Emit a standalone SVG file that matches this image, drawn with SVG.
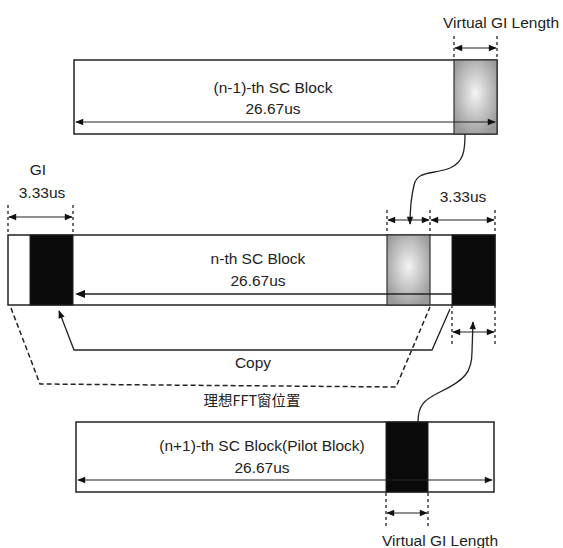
<svg xmlns="http://www.w3.org/2000/svg" width="563" height="548" viewBox="0 0 563 548">
<style>
.t{font-family:"Liberation Sans","DejaVu Sans",sans-serif;font-size:15.5px;fill:#222;text-anchor:middle}
.cjk{font-family:"Noto Sans CJK SC",sans-serif;font-size:14.5px;fill:#222;text-anchor:middle}
.blk{fill:#fff;stroke:#222;stroke-width:1.5}
.dark{fill:#0a0a0a;stroke:#222;stroke-width:1}
.gray{fill:url(#g);stroke:#333;stroke-width:1.2}
.ln{fill:none;stroke:#222;stroke-width:1.3}
.dim{fill:none;stroke:#222;stroke-width:1.2;marker-start:url(#ah);marker-end:url(#ah)}
.tick{stroke:#222;stroke-width:1.3;stroke-dasharray:3,3}
.dash{fill:none;stroke:#222;stroke-width:1.5;stroke-dasharray:5,3}
</style>
<defs>
<radialGradient id="g" cx="0.5" cy="0.45" r="0.6">
<stop offset="0" stop-color="#f4f4f4"/>
<stop offset="1" stop-color="#9a9a9a"/>
</radialGradient>
<marker id="ah" viewBox="0 0 10 10" refX="9" refY="5" markerWidth="10" markerHeight="8" markerUnits="userSpaceOnUse" orient="auto-start-reverse">
<path d="M0,1 L10,5 L0,9 z" fill="#111"/>
</marker>
</defs>

<g id="block-n-minus-1">
<rect class="blk" x="74" y="60" width="423" height="74"/>
<rect class="gray" x="454" y="60" width="43" height="74"/>
<text class="t" x="273" y="93">(n-1)-th SC Block</text>
<text class="t" x="273" y="114">26.67us</text>
<line class="dim" x1="76" y1="122" x2="495" y2="122"/>
</g>

<g id="virtual-gi-top">
<text class="t" x="501" y="28">Virtual GI Length</text>
<line class="tick" x1="454" y1="36" x2="454" y2="60"/>
<line class="tick" x1="497" y1="36" x2="497" y2="60"/>
<line class="dim" x1="455" y1="48" x2="496" y2="48"/>
</g>

<g id="block-n">
<rect class="blk" x="8" y="235" width="487" height="70"/>
<rect class="dark" x="30" y="235" width="43" height="70"/>
<rect class="gray" x="387" y="235" width="43" height="70"/>
<rect class="dark" x="452" y="235" width="43" height="70"/>
<text class="t" x="258" y="264">n-th SC Block</text>
<text class="t" x="258" y="286">26.67us</text>
<line class="ln" x1="452" y1="294" x2="84" y2="294"/>
<path d="M75,294 L85,290 L85,298 z" fill="#111"/>
</g>

<g id="gi-dim">
<text class="t" x="38" y="175">GI</text>
<text class="t" x="42" y="198">3.33us</text>
<line class="tick" x1="8" y1="205" x2="8" y2="233"/>
<line class="tick" x1="73" y1="205" x2="73" y2="233"/>
<line class="dim" x1="9" y1="217" x2="72" y2="217"/>
</g>

<g id="right-dims">
<text class="t" x="463" y="202">3.33us</text>
<line class="tick" x1="387" y1="210" x2="387" y2="235"/>
<line class="tick" x1="430" y1="210" x2="430" y2="235"/>
<line class="tick" x1="495" y1="210" x2="495" y2="235"/>
<line class="dim" x1="388" y1="220" x2="429" y2="220"/>
<line class="dim" x1="431" y1="220" x2="494" y2="220"/>
<line class="tick" x1="452" y1="305" x2="452" y2="346"/>
<line class="tick" x1="495" y1="305" x2="495" y2="346"/>
<line class="dim" x1="453" y1="332" x2="494" y2="332"/>
</g>

<g id="block-n-plus-1">
<rect class="blk" x="76" y="422" width="418" height="70"/>
<rect class="dark" x="386" y="422" width="42" height="70"/>
<text class="t" x="262" y="451">(n+1)-th SC Block(Pilot Block)</text>
<text class="t" x="262" y="473">26.67us</text>
<line class="dim" x1="78" y1="480" x2="492" y2="480"/>
</g>

<g id="virtual-gi-bottom">
<line class="tick" x1="386" y1="493" x2="386" y2="526"/>
<line class="tick" x1="428" y1="493" x2="428" y2="526"/>
<line class="dim" x1="387" y1="513" x2="427" y2="513"/>
<text class="t" x="440" y="546">Virtual GI Length</text>
</g>

<g id="labels">
<text class="t" x="253" y="368">Copy</text>
<text class="cjk" x="252" y="406">理想FFT窗位置</text>
</g>

<g id="connectors">
<path class="ln" d="M465,134 C465,150 464,162 450,168 C432,175 418,170 414,185 C411,198 410,215 410,224" marker-end="url(#ah)"/>
<path class="ln" d="M418,422 C418,405 424,400 440,392 C465,380 472,372 472,352 L473,322" marker-end="url(#ah)"/>
<polyline class="ln" points="450,309 432,350 74,350 59,311" marker-end="url(#ah)"/>
<polyline class="dash" points="11,308 40,384 396,387 430,307"/>
</g>
</svg>
